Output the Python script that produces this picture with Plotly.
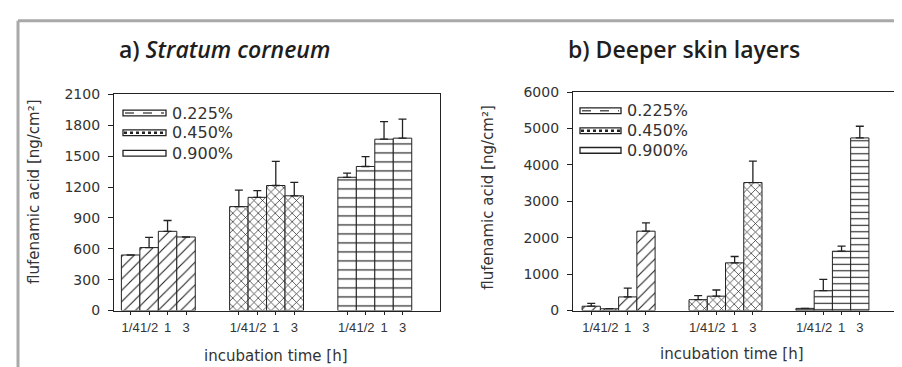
import plotly.graph_objects as go

W, H = 902, 367

times = ["1/4", "1/2", "1", "3"]
concentrations = ["0.225%", "0.450%", "0.900%"]

# Panel a) Stratum corneum  (ng/cm²)
a_0225 = [540, 612, 770, 715]
a_0225_err = [0, 100, 105, 0]
a_0450 = [1010, 1100, 1215, 1115]
a_0450_err = [160, 65, 235, 130]
a_0900 = [1295, 1400, 1665, 1675]
a_0900_err = [40, 95, 170, 185]

# Panel b) Deeper skin layers (ng/cm²)
b_0225 = [120, 50, 375, 2180]
b_0225_err = [80, 0, 240, 230]
b_0450 = [300, 395, 1310, 3515]
b_0450_err = [110, 170, 175, 590]
b_0900 = [60, 545, 1630, 4740]
b_0900_err = [0, 310, 140, 320]

a_ticks = [0, 300, 600, 900, 1200, 1500, 1800, 2100]
b_ticks = [0, 1000, 2000, 3000, 4000, 5000, 6000]

GROUP_STRIDE = 5.86
patterns = [
    dict(shape="/", size=8, solidity=0.14),
    dict(shape="x", size=6, solidity=0.22),
    dict(shape="-", size=9, solidity=0.13),
]
patterns_b = [
    dict(shape="/", size=8, solidity=0.14),
    dict(shape="x", size=6, solidity=0.22),
    dict(shape="-", size=6.5, solidity=0.17),
]

LINE = "#222222"
TXT = "#333333"
YTICKFONT = dict(family="DejaVu Sans", size=14, color=TXT)
XTICKFONT = dict(family="Liberation Sans", size=13, color=TXT)


def px_x(p):
    return p / W


def px_y(p):
    return 1 - p / H


fig = go.Figure()


def centers(g):
    return [g * GROUP_STRIDE + i for i in range(len(times))]


def add_panel(xa, ya, series, errs, pats):
    for g, (vals, err) in enumerate(zip(series, errs)):
        fig.add_trace(go.Bar(
            x=centers(g), y=vals, width=1.0, xaxis=xa, yaxis=ya,
            name=concentrations[g], showlegend=False,
            marker=dict(color="white", line=dict(color=LINE, width=1),
                        pattern=dict(fgcolor=LINE, bgcolor="white", fillmode="replace", **pats[g])),
            error_y=dict(type="data", symmetric=False, array=err, arrayminus=[0] * len(err),
                         color=LINE, thickness=1.3, width=4),
        ))


add_panel("x", "y", [a_0225, a_0450, a_0900], [a_0225_err, a_0450_err, a_0900_err], patterns)
add_panel("x2", "y2", [b_0225, b_0450, b_0900], [b_0225_err, b_0450_err, b_0900_err], patterns_b)

all_centers = centers(0) + centers(1) + centers(2)
all_labels = times * 3

axis_common = dict(showline=True, mirror=True, linecolor=LINE, linewidth=1.2,
                   showgrid=False, zeroline=False, ticks="outside", tickcolor=LINE,
                   fixedrange=True)
xaxis_common = dict(tickvals=all_centers, ticktext=all_labels, ticklen=3, tickangle=0,
                    tickfont=XTICKFONT, ticklabelstandoff=2, **axis_common)
yaxis_common = dict(ticklen=5, tickfont=YTICKFONT, ticklabelstandoff=5, **axis_common)

fig.update_layout(
    width=W, height=H, margin=dict(l=0, r=0, t=0, b=0),
    paper_bgcolor="white", plot_bgcolor="white", barmode="overlay",
    showlegend=False,
    xaxis=dict(domain=[px_x(106), px_x(432)], range=[-0.9, 16.75], anchor="y", **xaxis_common),
    yaxis=dict(domain=[px_y(308), px_y(82)], range=[0, 2100], anchor="x",
               tickvals=a_ticks, **yaxis_common),
    xaxis2=dict(domain=[px_x(565), px_x(887)], range=[-1.0, 16.65], anchor="y2", **xaxis_common),
    yaxis2=dict(domain=[px_y(308), px_y(79.5)], range=[0, 6000], anchor="x2",
                tickvals=b_ticks, **yaxis_common),
)

shapes = []
annotations = []

# outer frame
FRAME = "#a9a9a9"
for x0, y0, x1, y1 in [(10, 5, 898, 5), (10, 5, 10, 367), (898, 5, 898, 367)]:
    shapes.append(dict(type="line", xref="paper", yref="paper", x0=px_x(x0), y0=px_y(y0),
                       x1=px_x(x1), y1=px_y(y1), line=dict(color=FRAME, width=3), layer="above"))

# panel titles
TITLEFONT = dict(family="Open Sans", size=23, color="#1e1e1e", weight=600)
annotations.append(dict(text="a) <i>Stratum corneum</i>", xref="paper", yref="paper",
                        x=px_x(216), y=px_y(35), xanchor="center", yanchor="middle",
                        showarrow=False, font=TITLEFONT))
annotations.append(dict(text="b) Deeper skin layers", xref="paper", yref="paper",
                        x=px_x(676), y=px_y(35), xanchor="center", yanchor="middle",
                        showarrow=False, font=TITLEFONT))

# axis titles
AXFONT = dict(family="DejaVu Sans", size=15, color=TXT)
for xc, yc in [(26, 184), (480, 189)]:
    annotations.append(dict(text="flufenamic acid [ng/cm²]", xref="paper", yref="paper",
                            x=px_x(xc), y=px_y(yc), xanchor="center", yanchor="middle",
                            textangle=-90, showarrow=False, font=AXFONT))
for xc, yc in [(268, 355), (724, 353)]:
    annotations.append(dict(text="incubation time [h]", xref="paper", yref="paper",
                            x=px_x(xc), y=px_y(yc), xanchor="center", yanchor="middle",
                            showarrow=False, font=AXFONT))

# legends (drawn)
LEGFONT = dict(family="DejaVu Sans", size=16, color=TXT)
legend_layouts = [
    (115, 158, 162, [101.5, 122, 143.5]),
    (572, 613, 617, [99, 120, 140.5]),
]
for sx0, sx1, tx, rows in legend_layouts:
    for k, (lab, yc) in enumerate(zip(concentrations, rows)):
        shapes.append(dict(type="rect", xref="paper", yref="paper",
                           x0=px_x(sx0), x1=px_x(sx1), y0=px_y(yc + 3), y1=px_y(yc - 3),
                           line=dict(color=LINE, width=1.3), fillcolor="white", layer="above"))
        if k == 0:
            shapes.append(dict(type="line", xref="paper", yref="paper",
                               x0=px_x(sx0 + 2), x1=px_x(sx1 - 2), y0=px_y(yc), y1=px_y(yc),
                               line=dict(color="#555", width=1.5, dash="dash"), layer="above"))
        elif k == 1:
            shapes.append(dict(type="line", xref="paper", yref="paper",
                               x0=px_x(sx0 + 1), x1=px_x(sx1 - 1), y0=px_y(yc), y1=px_y(yc),
                               line=dict(color="#222", width=2.5, dash="dot"), layer="above"))
        annotations.append(dict(text=lab, xref="paper", yref="paper",
                                x=px_x(tx), y=px_y(yc), xanchor="left", yanchor="middle",
                                showarrow=False, font=LEGFONT))

fig.update_layout(shapes=shapes, annotations=annotations)

fig.write_html("out.html")
